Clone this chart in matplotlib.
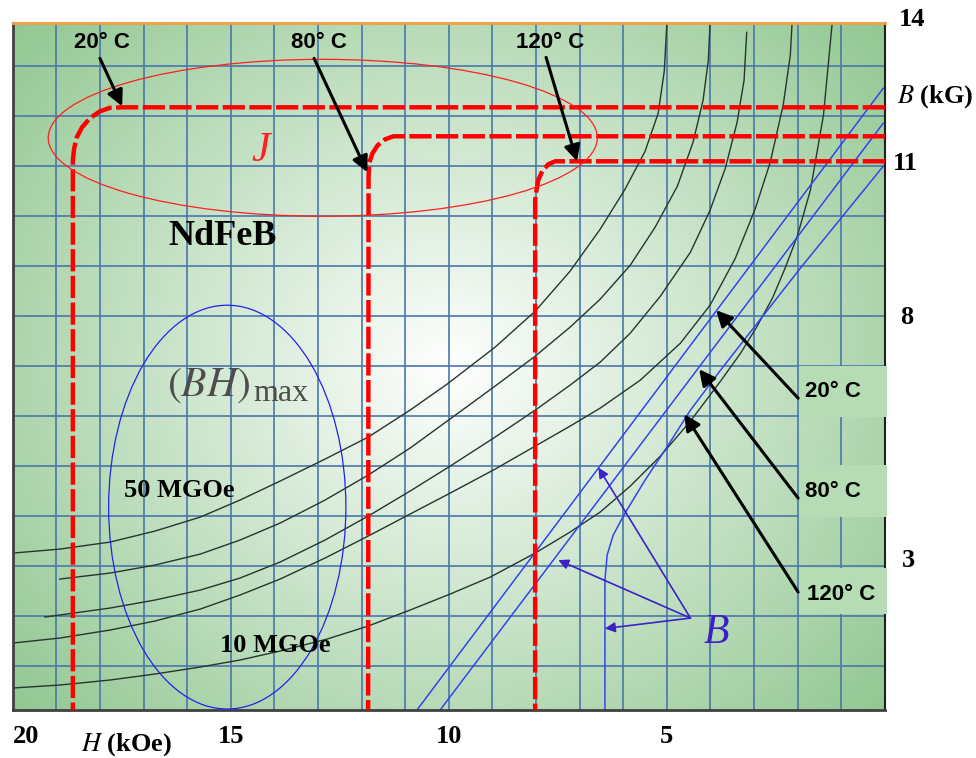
import numpy as np
import matplotlib
matplotlib.use('Agg')
import matplotlib.pyplot as plt
from matplotlib.patches import Ellipse, Rectangle

plt.rcParams['mathtext.fontset'] = 'stix'

# J curves (red dashed) - H in kOe, B in kG
j20_h = [0, 17.50, 17.77, 18.0, 18.23, 18.41, 18.53, 18.59, 18.62, 18.62]
j20_b = [12.18, 12.18, 12.17, 12.10, 11.96, 11.78, 11.58, 11.36, 11.12, 0.12]
j80_h = [0, 11.27, 11.46, 11.63, 11.75, 11.82, 11.84, 11.85]
j80_b = [11.6, 11.6, 11.54, 11.42, 11.26, 11.08, 10.82, 0.12]
j120_h = [0, 7.56, 7.72, 7.86, 7.95, 7.99, 8.02, 8.02]
j120_b = [11.1, 11.1, 11.04, 10.90, 10.72, 10.52, 10.32, 0.12]

# B curves (blue)
b20_h = [10.73, 0.04]
b20_b = [0.12, 12.56]
b80_h = [10.20, 0.04]
b80_b = [0.12, 11.86]
b120_h = [6.42, 6.42, 6.37, 6.23, 5.96, 5.50, 4.97, 4.46, 3.77, 1.94, 0.04]
b120_b = [0.12, 2.72, 3.22, 3.62, 4.06, 4.72, 5.42, 6.12, 6.92, 8.96, 11.0]

# (BH) product curves (black)
bh1_h = [20.0, 18.92, 17.77, 16.74, 15.70, 14.79, 13.87, 12.84, 11.85, 10.89, 10.04,
         8.94, 8.02, 7.22, 6.53, 5.96, 5.50, 5.20, 5.06, 5.00]
bh1_b = [3.26, 3.34, 3.48, 3.70, 3.98, 4.32, 4.70, 5.14, 5.58, 6.12, 6.64,
         7.38, 8.10, 8.90, 9.74, 10.54, 11.30, 12.06, 12.90, 13.86]
bh2_h = [18.92, 17.77, 16.74, 15.70, 14.79, 13.87, 12.84, 11.85, 10.89, 10.04, 8.94,
         8.02, 7.22, 6.53, 5.84, 5.27, 4.76, 4.40, 4.17, 4.05, 4.01]
bh2_b = [2.74, 2.86, 3.02, 3.24, 3.52, 3.86, 4.32, 4.82, 5.36, 5.90, 6.60,
         7.20, 7.78, 8.34, 9.02, 9.78, 10.60, 11.48, 12.32, 13.12, 13.86]
bh3_h = [19.26, 17.77, 16.74, 15.70, 14.79, 13.87, 12.84, 11.85, 10.89, 9.97, 8.94,
         8.02, 7.22, 6.53, 5.84, 5.15, 4.46, 4.01, 3.66, 3.39, 3.23, 3.17]
bh3_b = [1.98, 2.16, 2.32, 2.52, 2.76, 3.08, 3.52, 4.00, 4.50, 5.00, 5.58,
         6.12, 6.62, 7.08, 7.66, 8.40, 9.28, 10.12, 10.96, 11.88, 12.72, 13.68]
bh4_h = [20.0, 18.92, 17.77, 16.74, 15.70, 14.79, 13.87, 12.84, 11.85, 10.89, 9.97, 8.94,
         8.02, 7.22, 6.53, 5.61, 4.69, 4.01, 3.43, 2.97, 2.63, 2.33, 2.17, 2.13]
bh4_b = [1.46, 1.56, 1.72, 1.90, 2.14, 2.42, 2.74, 3.16, 3.60, 4.04, 4.46, 4.94,
         5.40, 5.80, 6.16, 6.72, 7.46, 8.22, 9.16, 10.16, 11.08, 12.24, 13.22, 13.86]
bh5_h = [20.0, 18.92, 17.77, 16.74, 15.70, 14.79, 13.87, 12.79, 11.85, 10.89, 9.97, 9.05,
         8.02, 7.22, 6.53, 5.84, 5.15, 4.46, 3.77, 3.31, 2.93, 2.58, 2.29, 2.01, 1.71, 1.41, 1.21]
bh5_b = [0.56, 0.62, 0.72, 0.84, 0.98, 1.12, 1.30, 1.54, 1.80, 2.12, 2.44, 2.78,
         3.26, 3.68, 4.08, 4.60, 5.20, 5.90, 6.70, 7.26, 7.80, 8.36, 8.96, 9.60, 10.52, 12.02, 13.86]
bh_curves = [(bh1_h, bh1_b), (bh2_h, bh2_b), (bh3_h, bh3_b), (bh4_h, bh4_b), (bh5_h, bh5_b)]

x_ticks = [20, 15, 10, 5]
y_labels = [14, 11, 8, 3]
temps = ['20° C', '80° C', '120° C']

fig = plt.figure(figsize=(9.76, 7.58), dpi=100)
ax = fig.add_axes([0.0130, 0.0633, 0.8937, 0.9059])

# green radial background
uu, vv = np.meshgrid(np.linspace(0, 1, 400), np.linspace(0, 1, 320))
rr = np.sqrt(((uu - 0.5) * 872 / 470) ** 2 + ((vv - 0.5) * 687 / 420) ** 2)
s = np.clip(rr / 1.3, 0, 1)
green = np.array([0.55, 0.77, 0.55])
img = 1 - s[..., None] * (1 - green)
ax.imshow(img, extent=[20, 0, 0.12, 13.86], origin='upper', aspect='auto',
          zorder=0, interpolation='bilinear')
ax.set_xlim(20, 0)
ax.set_ylim(0.12, 13.86)

ax.vlines(np.arange(1, 20), 0.12, 13.86, color='#4a78a8', lw=1.2, zorder=1)
ax.hlines(np.arange(1, 14), 0, 20, color='#4a78a8', lw=1.2, zorder=1)

# light boxes behind the right labels
for b0, b1 in [(5.98, 7.0), (3.98, 5.02), (2.04, 2.96)]:
    ax.add_patch(Rectangle((-0.04, b0), 2.02, b1 - b0, facecolor='#b6dcb6',
                           edgecolor='none', zorder=2.6, clip_on=False))

for h, b in bh_curves:
    ax.plot(h, b, color='#26362f', lw=1.0, zorder=2)

for h, b in [(b20_h, b20_b), (b80_h, b80_b), (b120_h, b120_b)]:
    ax.plot(h, b, color='#3344ee', lw=1.1, zorder=2.2)

for h, b in [(j20_h, j20_b), (j80_h, j80_b), (j120_h, j120_b)]:
    ax.plot(h, b, color='#ff0000', lw=3.2, dashes=(5, 1), zorder=3)

ax.add_patch(Ellipse((12.89, 11.57), 12.59, 3.14, fill=False, edgecolor='#ff2020', lw=0.9, zorder=3))
ax.add_patch(Ellipse((15.08, 4.18), 5.44, 8.08, fill=False, edgecolor='#2222ee', lw=0.9, zorder=3))

# black arrows with temperature labels
arr = dict(arrowstyle='-|>', color='black', lw=2.2, mutation_scale=24, shrinkA=0, shrinkB=0)
sans = dict(family='Liberation Sans', fontweight='bold', fontsize=16, zorder=5)
top_lab = [(17.95, 13.48), (12.97, 13.48), (7.68, 13.48)]
top_tail = [(18.0, 13.16), (13.09, 13.16), (7.77, 13.18)]
top_tip = [(17.49, 12.2), (11.87, 10.88), (7.06, 11.1)]
for t, lab, tail, tip in zip(temps, top_lab, top_tail, top_tip):
    ax.text(lab[0], lab[1], t, ha='center', va='center', **sans)
    ax.annotate('', xy=tip, xytext=tail, arrowprops=arr, zorder=5)

right_lab = [(1.83, 6.5), (1.83, 4.5), (1.78, 2.44)]
right_tail = [(1.99, 6.36), (1.99, 4.36), (1.99, 2.48)]
right_tip = [(3.87, 8.12), (4.26, 6.94), (4.60, 6.04)]
for t, lab, tail, tip in zip(temps, right_lab, right_tail, right_tip):
    ax.text(lab[0], lab[1], t, ha='left', va='center', clip_on=False, **sans)
    ax.annotate('', xy=tip, xytext=tail, arrowprops=arr, zorder=5)

# blue arrows to B curves
barr = dict(arrowstyle='-|>', color='#3a22c8', lw=1.2, mutation_scale=15, shrinkA=0, shrinkB=0)
for tip in [(6.57, 4.97), (7.49, 3.12), (6.42, 1.75)]:
    ax.annotate('', xy=tip, xytext=(4.46, 1.96), arrowprops=barr, zorder=5)

serif = 'Liberation Serif'
ax.text(3.87, 1.66, 'B', color='#3a22c8', fontsize=30, family=serif, style='italic',
        ha='center', va='center', zorder=5)
ax.text(14.32, 11.32, 'J', color='#ff2020', fontsize=30, family=serif, style='italic',
        ha='center', va='center', zorder=5)
ax.text(15.19, 9.59, 'NdFeB', fontsize=26, family=serif, fontweight='bold',
        ha='center', va='center', zorder=5)
ax.text(15.51, 6.64, r'$(BH)$', color='#4d4d4d', fontsize=30,
        ha='center', va='center', zorder=5)
ax.text(14.49, 6.3, 'max', color='#4d4d4d', fontsize=23, family=serif,
        ha='left', va='baseline', zorder=5)
ax.text(16.18, 4.52, '50 MGOe', fontsize=19, family=serif, fontweight='bold',
        ha='center', va='center', zorder=5)
ax.text(13.98, 1.42, '10 MGOe', fontsize=19, family=serif, fontweight='bold',
        ha='center', va='center', zorder=5)

# axes labels
ax.set_xticks(x_ticks)
ax.set_xticklabels([str(v) for v in x_ticks], family=serif, fontweight='bold', fontsize=19)
ax.get_xticklabels()[0].set_ha('left')
ax.tick_params(axis='x', length=0, pad=11)
ax.set_yticks([])
ax.text(17.4, -0.58, r'$H$ (kOe)', family=serif, fontweight='bold', fontsize=19,
        ha='center', va='center', clip_on=False)
right_x = [-0.63, -0.47, -0.51, -0.53]
right_y = [13.94, 11.06, 7.98, 3.12]
for v, xx, yy in zip(y_labels, right_x, right_y):
    ax.text(xx, yy, str(v), family=serif, fontweight='bold', fontsize=19,
            ha='center', va='center', clip_on=False)
ax.text(-1.15, 12.4, r'$B$ (kG)', family=serif, fontweight='bold', fontsize=19,
        ha='center', va='center', clip_on=False)

ax.spines['top'].set_color('#f0a040')
ax.spines['top'].set_linewidth(2)
for sp in ['left', 'bottom']:
    ax.spines[sp].set_color('#404040')
    ax.spines[sp].set_linewidth(2)
ax.spines['right'].set_color('#202020')
ax.spines['right'].set_linewidth(1.5)

fig.savefig('out.png', dpi=100)
